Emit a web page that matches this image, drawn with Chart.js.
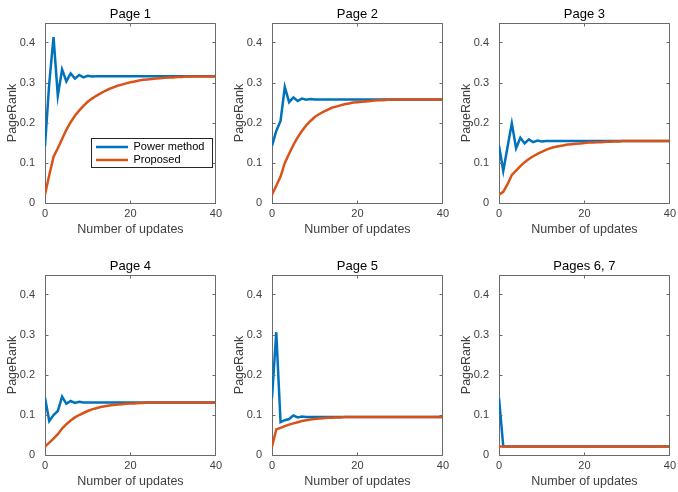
<!DOCTYPE html>
<html>
<head>
<meta charset="utf-8">
<script src="https://cdn.jsdelivr.net/npm/chart.js@4.4.1/dist/chart.umd.min.js"></script>
<style>
  body { margin: 0; background: #fff; overflow: hidden; }
  #wrap { position: relative; width: 678px; height: 492px; overflow: hidden; }
  #wrap canvas { position: absolute; }
</style>
</head>
<body>
<div id="wrap"></div>
<script>
// x values (number of updates)
const updates = [0,1,2,3,4,5,6,7,8,9,10,11,12,13,14,15,16,17,18,19,20,
  21,22,23,24,25,26,27,28,29,30,31,32,33,34,35,36,37,38,39,40];

const titles = ["Page 1", "Page 2", "Page 3", "Page 4", "Page 5", "Pages 6, 7"];
const xTicks = [0, 20, 40];
const yTicks = [0, 0.1, 0.2, 0.3, 0.4];

// Power method
const power1 = [0.143,0.300,0.415,0.268,0.334,0.304,0.324,0.311,0.320,0.314,
  0.318,0.316,0.317,0.317,0.317,0.317,0.317,0.317,0.317,0.317,
  0.317,0.317,0.317,0.317,0.317,0.317,0.317,0.317,0.317,0.317,
  0.317,0.317,0.317,0.317,0.317,0.317,0.317,0.317,0.317,0.317,0.317];
const power2 = [0.143,0.180,0.205,0.290,0.252,0.264,0.255,0.261,0.258,0.260,
  0.259,0.259,0.259,0.259,0.259,0.259,0.259,0.259,0.259,0.259,
  0.259,0.259,0.259,0.259,0.259,0.259,0.259,0.259,0.259,0.259,
  0.259,0.259,0.259,0.259,0.259,0.259,0.259,0.259,0.259,0.259,0.259];
const power3 = [0.143,0.080,0.140,0.199,0.137,0.163,0.149,0.159,0.152,0.156,
  0.154,0.155,0.155,0.155,0.155,0.155,0.155,0.155,0.155,0.155,
  0.155,0.155,0.155,0.155,0.155,0.155,0.155,0.155,0.155,0.155,
  0.155,0.155,0.155,0.155,0.155,0.155,0.155,0.155,0.155,0.155,0.155];
const power4 = [0.143,0.085,0.100,0.110,0.146,0.128,0.135,0.130,0.133,0.131,
  0.131,0.131,0.131,0.131,0.131,0.131,0.131,0.131,0.131,0.131,
  0.131,0.131,0.131,0.131,0.131,0.131,0.131,0.131,0.131,0.131,
  0.131,0.131,0.131,0.131,0.131,0.131,0.131,0.131,0.131,0.131,0.131];
const power5 = [0.143,0.307,0.082,0.087,0.090,0.099,0.094,0.096,0.095,0.095,
  0.095,0.095,0.095,0.095,0.095,0.095,0.095,0.095,0.095,0.095,
  0.095,0.095,0.095,0.095,0.095,0.095,0.095,0.095,0.095,0.095,
  0.095,0.095,0.095,0.095,0.095,0.095,0.095,0.095,0.095,0.095,0.095];
const power6 = [0.143,0.021,0.021,0.021,0.021,0.021,0.021,0.021,0.021,0.021,
  0.021,0.021,0.021,0.021,0.021,0.021,0.021,0.021,0.021,0.021,
  0.021,0.021,0.021,0.021,0.021,0.021,0.021,0.021,0.021,0.021,
  0.021,0.021,0.021,0.021,0.021,0.021,0.021,0.021,0.021,0.021,0.021];

// Proposed
const proposed1 = [0.021,0.070,0.116,0.137,0.160,0.183,0.202,0.218,0.231,0.243,
  0.253,0.261,0.268,0.274,0.280,0.285,0.289,0.293,0.296,0.299,
  0.302,0.304,0.306,0.308,0.309,0.310,0.311,0.312,0.313,0.314,
  0.314,0.315,0.315,0.316,0.316,0.316,0.316,0.316,0.316,0.316,0.316];
const proposed2 = [0.021,0.043,0.066,0.100,0.123,0.145,0.164,0.180,0.194,0.205,
  0.215,0.222,0.228,0.233,0.238,0.241,0.244,0.247,0.249,0.251,
  0.252,0.253,0.254,0.255,0.256,0.257,0.257,0.258,0.258,0.259,
  0.259,0.259,0.259,0.259,0.259,0.259,0.259,0.259,0.259,0.259,0.259];
const proposed3 = [0.021,0.028,0.047,0.070,0.081,0.092,0.102,0.110,0.117,0.123,
  0.128,0.133,0.137,0.140,0.142,0.144,0.146,0.147,0.148,0.149,
  0.150,0.151,0.151,0.152,0.152,0.153,0.153,0.154,0.154,0.155,
  0.155,0.155,0.155,0.155,0.155,0.155,0.155,0.155,0.155,0.155,0.155];
const proposed4 = [0.021,0.031,0.041,0.052,0.066,0.077,0.086,0.094,0.100,0.105,
  0.110,0.114,0.117,0.120,0.122,0.124,0.125,0.126,0.127,0.128,
  0.129,0.129,0.130,0.130,0.131,0.131,0.131,0.131,0.131,0.131,
  0.131,0.131,0.131,0.131,0.131,0.131,0.131,0.131,0.131,0.131,0.131];
const proposed5 = [0.021,0.064,0.068,0.072,0.076,0.079,0.082,0.085,0.087,0.089,
  0.090,0.091,0.092,0.093,0.093,0.094,0.094,0.095,0.095,0.095,
  0.095,0.095,0.095,0.095,0.095,0.095,0.095,0.095,0.095,0.095,
  0.095,0.095,0.095,0.095,0.095,0.095,0.095,0.095,0.095,0.095,0.095];
const proposed6 = [0.021,0.021,0.021,0.021,0.021,0.021,0.021,0.021,0.021,0.021,
  0.021,0.021,0.021,0.021,0.021,0.021,0.021,0.021,0.021,0.021,
  0.021,0.021,0.021,0.021,0.021,0.021,0.021,0.021,0.021,0.021,
  0.021,0.021,0.021,0.021,0.021,0.021,0.021,0.021,0.021,0.021,0.021];

const powerSeries = [power1, power2, power3, power4, power5, power6];
const proposedSeries = [proposed1, proposed2, proposed3, proposed4, proposed5, proposed6];

const BLUE = "#0072BD";
const ORANGE = "#D95319";
const AXIS = "#6a6a6a";
const TEXT = "#404040";

const colLeft = [0, 227, 454];
const rowTop = [0, 252];

Chart.defaults.font.family = "'Liberation Sans', Arial, Helvetica, sans-serif";

const al = (p) => Math.round(p - 0.5) + 0.5;

// MATLAB style box: top/right edges, inward ticks, legend frame
const axesBox = {
  id: "axesBox",
  afterLayout(chart) {
    if (!chart.options.plugins.legend.display) return;
    const lg = chart.legend;
    const a = chart.chartArea;
    lg.left = a.left + 49;
    lg.top = a.top + 116.5;
    lg.right = lg.left + 122;
    lg.bottom = lg.top + 30;
  },
  afterDraw(chart) {
    const { ctx, chartArea: a, scales } = chart;
    const L = al(a.left), R = al(a.right), T = al(a.top), B = al(a.bottom);
    ctx.save();
    ctx.strokeStyle = AXIS;
    ctx.lineWidth = 1;
    ctx.beginPath();
    ctx.moveTo(L, T); ctx.lineTo(R, T); ctx.lineTo(R, B);
    yTicks.forEach((v) => {
      const py = al(scales.y.getPixelForValue(v));
      ctx.moveTo(L, py); ctx.lineTo(L + 3, py);
      ctx.moveTo(R, py); ctx.lineTo(R - 3, py);
    });
    xTicks.forEach((v) => {
      const px = al(scales.x.getPixelForValue(v));
      ctx.moveTo(px, B); ctx.lineTo(px, B - 3);
      ctx.moveTo(px, T); ctx.lineTo(px, T + 3);
    });
    ctx.stroke();
    if (chart.options.plugins.legend.display) {
      ctx.strokeStyle = "#262626";
      ctx.strokeRect(al(a.left + 46), al(a.top + 115), 121, 29);
    }
    ctx.restore();
  },
};

const wrap = document.getElementById("wrap");

titles.forEach((title, i) => {
  const canvas = document.createElement("canvas");
  canvas.width = 226;
  canvas.height = 240;
  canvas.style.left = colLeft[i % 3] + "px";
  canvas.style.top = rowTop[Math.floor(i / 3)] + "px";
  wrap.appendChild(canvas);

  new Chart(canvas.getContext("2d"), {
    type: "line",
    data: {
      labels: updates,
      datasets: [
        {
          label: "Power method",
          data: powerSeries[i],
          borderColor: BLUE,
          backgroundColor: BLUE,
          borderWidth: 2.5,
          pointRadius: 0,
          tension: 0,
          order: 1,
        },
        {
          label: "Proposed",
          data: proposedSeries[i],
          borderColor: ORANGE,
          backgroundColor: ORANGE,
          borderWidth: 2.5,
          pointRadius: 0,
          tension: 0,
          order: 0,
        },
      ],
    },
    options: {
      responsive: false,
      animation: false,
      events: [],
      layout: { padding: { left: 0, right: 8, top: 0, bottom: 0 } },
      plugins: {
        tooltip: { enabled: false },
        title: {
          display: true,
          fullSize: false,
          text: title,
          color: "#000",
          font: { size: 13, weight: "normal" },
          padding: { top: 6.7, bottom: 0.7 },
        },
        legend: {
          display: i === 0,
          position: "chartArea",
          align: "start",
          labels: {
            usePointStyle: true,
            pointStyle: "line",
            pointStyleWidth: 32,
            padding: 2,
            color: "#000",
            font: { size: 11 },
            sort: (a, b) => a.datasetIndex - b.datasetIndex,
          },
        },
      },
      scales: {
        x: {
          type: "linear",
          min: 0,
          max: 40,
          afterFit: (s) => { s.height = 37; },
          grid: { display: false, drawTicks: false },
          border: { display: true, color: AXIS, width: 1 },
          ticks: {
            stepSize: 20,
            padding: 4,
            color: TEXT,
            font: { size: 11 },
            maxRotation: 0,
          },
          title: {
            display: true,
            text: "Number of updates",
            color: TEXT,
            font: { size: 12.5 },
            padding: { top: 0, bottom: 3 },
          },
        },
        y: {
          min: 0,
          max: 0.45,
          afterFit: (s) => { s.width = 45; },
          grid: { display: false, drawTicks: false },
          border: { display: true, color: AXIS, width: 1 },
          ticks: {
            stepSize: 0.1,
            includeBounds: false,
            padding: 10,
            color: TEXT,
            font: { size: 11 },
            callback: (v) => String(+v.toFixed(2)),
          },
          title: {
            display: true,
            text: "PageRank",
            color: TEXT,
            font: { size: 12.5 },
            padding: { top: 4.8, bottom: 0 },
          },
        },
      },
    },
    plugins: [axesBox],
  });
});
</script>
</body>
</html>
